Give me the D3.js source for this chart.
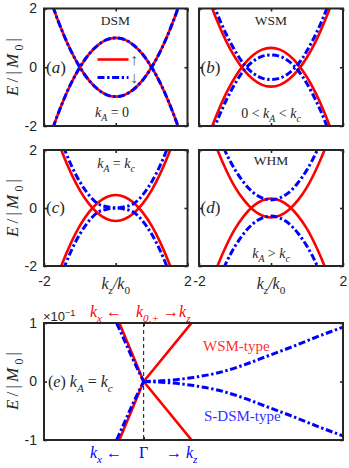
<!DOCTYPE html>
<html><head><meta charset="utf-8">
<script src="https://cdn.jsdelivr.net/npm/d3@7"></script>
<style>
html,body{margin:0;padding:0;background:#fff;}
svg{display:block;}
</style></head>
<body>
<svg id="c" width="349" height="468"></svg>
<script>
// ---------- data ----------
const K = [-2,-1.75,-1.5,-1.25,-1,-0.75,-0.5,-0.25,0,0.25,0.5,0.75,1,1.25,1.5,1.75,2];
// panel (a) DSM, kA = 0 (spin up / down coincide)
const aRedUp  = [3,2.06,1.25,0.56,0,-0.44,-0.75,-0.94,-1,-0.94,-0.75,-0.44,0,0.56,1.25,2.06,3];
const aRedDn  = [-3,-2.06,-1.25,-0.56,0,0.44,0.75,0.94,1,0.94,0.75,0.44,0,-0.56,-1.25,-2.06,-3];
const aBlueUp = [3,2.06,1.25,0.56,0,-0.44,-0.75,-0.94,-1,-0.94,-0.75,-0.44,0,0.56,1.25,2.06,3];
const aBlueDn = [-3,-2.06,-1.25,-0.56,0,0.44,0.75,0.94,1,0.94,0.75,0.44,0,-0.56,-1.25,-2.06,-3];
// panel (b) WSM
const bRedUp  = [3.34,2.4,1.59,0.9,0.34,-0.1,-0.41,-0.6,-0.66,-0.6,-0.41,-0.1,0.34,0.9,1.59,2.4,3.34];
const bRedDn  = [-3.34,-2.4,-1.59,-0.9,-0.34,0.1,0.41,0.6,0.66,0.6,0.41,0.1,-0.34,-0.9,-1.59,-2.4,-3.34];
const bBlueUp = [3.6,2.68,1.84,1.14,0.56,0.1,-0.2,-0.37,-0.42,-0.37,-0.2,0.1,0.56,1.14,1.84,2.68,3.6];
const bBlueDn = [-3.6,-2.68,-1.84,-1.14,-0.56,-0.1,0.2,0.37,0.42,0.37,0.2,-0.1,-0.56,-1.14,-1.84,-2.68,-3.6];
// panel (c) kA = kc
const cRedUp  = [3.79,2.8,1.94,1.21,0.61,0.15,-0.18,-0.38,-0.45,-0.38,-0.18,0.15,0.61,1.21,1.94,2.8,3.79];
const cRedDn  = [-3.79,-2.8,-1.94,-1.21,-0.61,-0.15,0.18,0.38,0.45,0.38,0.18,-0.15,-0.61,-1.21,-1.94,-2.8,-3.79];
const cBlueUp = [4,3.1,2.25,1.5,0.9,0.45,0.15,0.04,0,0.04,0.15,0.45,0.9,1.5,2.25,3.1,4];
const cBlueDn = [-4,-3.1,-2.25,-1.5,-0.9,-0.45,-0.15,-0.04,0,-0.04,-0.15,-0.45,-0.9,-1.5,-2.25,-3.1,-4];
// panel (d) WHM
const dRedUp  = [3.87,2.89,2.04,1.32,0.72,0.27,-0.06,-0.26,-0.33,-0.26,-0.06,0.27,0.72,1.32,2.04,2.89,3.87];
const dRedDn  = [-3.87,-2.89,-2.04,-1.32,-0.72,-0.27,0.06,0.26,0.33,0.26,0.06,-0.27,-0.72,-1.32,-2.04,-2.89,-3.87];
const dBlueUp = [4.44,3.47,2.62,1.9,1.32,0.87,0.54,0.35,0.28,0.35,0.54,0.87,1.32,1.9,2.62,3.47,4.44];
const dBlueDn = [-4.44,-3.47,-2.62,-1.9,-1.32,-0.87,-0.54,-0.35,-0.28,-0.35,-0.54,-0.87,-1.32,-1.9,-2.62,-3.47,-4.44];
// panel (e) zoom near Gamma (E in units of 1e-1)
const eRedK   = [-0.3, 0, 0.6];
const eRedUp  = [1.23, 0, 1.25];
const eRedDn  = [-1.23, 0, -1.25];
const eBlueLK  = [-0.33,-0.2,-0.1,0];
const eBlueLUp = [1.22,0.73,0.35,0];
const eBlueLDn = [-1.22,-0.73,-0.35,0];
const eBlueRK  = [0,0.25,0.5,0.75,1,1.25,1.5,1.75,2];
const eBlueRUp = [0,0.02,0.07,0.15,0.28,0.44,0.6,0.77,0.93];
const eBlueRDn = [0,-0.02,-0.07,-0.15,-0.28,-0.44,-0.6,-0.77,-0.93];
const bandTicks = [-2,0,2];
const eTicks = [-1,0,1];

// ---------- style ----------
const RED = "#ff0000", BLUE = "#0000ff", INK = "#262626";
const SERIF = "'Liberation Serif','DejaVu Serif',serif";
const SANS = "'Liberation Sans',Arial,sans-serif";
const DASH = "7,2.6,2.4,2.6";

const svg = d3.select("#c");

function rich(sel, parts, fs) {
  let shift = 0;
  parts.forEach(([t, s]) => {
    const ts = sel.append("tspan").text(t);
    if (s.includes("i")) ts.attr("font-style", "italic");
    const target = s.includes("_") ? fs * 0.32 : s.includes("^") ? -fs * 0.42 : 0;
    if (target !== shift) { ts.attr("dy", target - shift); shift = target; }
    if (s.includes("_") || s.includes("^")) ts.attr("font-size", fs * 0.7);
  });
  return sel;
}
function label(g, x, y, parts, fs, color, anchor, font) {
  const t = g.append("text").attr("x", x).attr("y", y)
    .attr("font-family", font || SERIF).attr("font-size", fs)
    .attr("fill", color || INK).attr("text-anchor", anchor || "middle");
  return rich(t, parts, fs);
}

let clipId = 0;
function panel(box, xd, yd, opts) {
  const x = d3.scaleLinear().domain(xd).range([box.x0, box.x1]);
  const y = d3.scaleLinear().domain(yd).range([box.y1, box.y0]);
  const id = "clip" + (clipId++);
  svg.append("clipPath").attr("id", id).append("rect")
    .attr("x", box.x0).attr("y", box.y0).attr("width", box.x1 - box.x0).attr("height", box.y1 - box.y0);
  const plot = svg.append("g").attr("clip-path", `url(#${id})`);
  const ax = svg.append("g");
  const xt = opts.xTicks, yt = opts.yTicks;
  const styleAxis = g => {
    g.select(".domain").remove();
    g.selectAll(".tick line").attr("stroke", INK).attr("stroke-width", 1.6);
    g.selectAll(".tick text").attr("font-family", SANS).attr("font-size", 14).attr("fill", INK);
  };
  ax.append("g").attr("transform", `translate(0,${box.y1})`)
    .call(d3.axisBottom(x).tickValues(xt).tickSizeInner(-3).tickSizeOuter(0).tickPadding(10)
      .tickFormat(d => opts.xLabels && d !== 0 ? String(d) : ""))
    .call(styleAxis);
  ax.append("g").attr("transform", `translate(0,${box.y0})`)
    .call(d3.axisTop(x).tickValues(xt).tickSizeInner(-3).tickSizeOuter(0).tickFormat(""))
    .call(styleAxis);
  ax.append("g").attr("transform", `translate(${box.x0},0)`)
    .call(d3.axisLeft(y).tickValues(yt).tickSizeInner(-3).tickSizeOuter(0).tickPadding(7)
      .tickFormat(d => opts.yLabels ? String(d) : ""))
    .call(styleAxis);
  ax.append("g").attr("transform", `translate(${box.x1},0)`)
    .call(d3.axisRight(y).tickValues(yt).tickSizeInner(-3).tickSizeOuter(0).tickFormat(""))
    .call(styleAxis);
  return { x, y, plot, box, ax };
}
function frame(p) {
  svg.append("rect").attr("x", p.box.x0).attr("y", p.box.y0)
    .attr("width", p.box.x1 - p.box.x0).attr("height", p.box.y1 - p.box.y0)
    .attr("fill", "none").attr("stroke", INK).attr("stroke-width", 2);
}
function curve(p, ks, es, color, dashed, curveType) {
  const line = d3.line().x((d, i) => p.x(ks[i])).y(d => p.y(d)).curve(curveType || d3.curveNatural);
  p.plot.append("path").attr("d", line(es)).attr("fill", "none")
    .attr("stroke", color).attr("stroke-width", dashed ? 3 : 2.6)
    .attr("stroke-dasharray", dashed ? DASH : null)
    .attr("stroke-linecap", "butt").attr("stroke-linejoin", "round");
}

const L = { x0: 44, x1: 187.5 }, R = { x0: 199, x1: 343 };
const row1 = { y0: 8.5, y1: 126 }, row2 = { y0: 150, y1: 266 }, row3 = { y0: 323, y1: 440 };

// (a)
const pa = panel({ ...L, ...row1 }, [-2, 2], [-2, 2], { xTicks: bandTicks, yTicks: bandTicks, yLabels: true });
curve(pa, K, aRedUp, RED); curve(pa, K, aRedDn, RED);
curve(pa, K, aBlueUp, BLUE, true); curve(pa, K, aBlueDn, BLUE, true);
frame(pa);
// (b)
const pb = panel({ ...R, ...row1 }, [-2, 2], [-2, 2], { xTicks: bandTicks, yTicks: bandTicks });
curve(pb, K, bRedUp, RED); curve(pb, K, bRedDn, RED);
curve(pb, K, bBlueUp, BLUE, true); curve(pb, K, bBlueDn, BLUE, true);
frame(pb);
// (c)
const pc = panel({ ...L, ...row2 }, [-2, 2], [-2, 2], { xTicks: bandTicks, yTicks: bandTicks, yLabels: true, xLabels: true });
curve(pc, K, cRedUp, RED); curve(pc, K, cRedDn, RED);
curve(pc, K, cBlueUp, BLUE, true); curve(pc, K, cBlueDn, BLUE, true);
frame(pc);
// (d)
const pd = panel({ ...R, ...row2 }, [-2, 2], [-2, 2], { xTicks: bandTicks, yTicks: bandTicks, xLabels: true });
curve(pd, K, dRedUp, RED); curve(pd, K, dRedDn, RED);
curve(pd, K, dBlueUp, BLUE, true); curve(pd, K, dBlueDn, BLUE, true);
frame(pd);
// (e)
const pe = panel({ x0: 44, x1: 343, ...row3 }, [-1, 2], [-1, 1], { xTicks: [0], yTicks: eTicks, yLabels: true });
pe.plot.append("line").attr("x1", pe.x(0)).attr("x2", pe.x(0)).attr("y1", row3.y0).attr("y2", row3.y1)
  .attr("stroke", "#111").attr("stroke-width", 1).attr("stroke-dasharray", "4,3");
curve(pe, eRedK, eRedUp, RED, false, d3.curveLinear);
curve(pe, eRedK, eRedDn, RED, false, d3.curveLinear);
curve(pe, eBlueLK, eBlueLUp, BLUE, true, d3.curveMonotoneX);
curve(pe, eBlueLK, eBlueLDn, BLUE, true, d3.curveMonotoneX);
curve(pe, eBlueRK, eBlueRUp, BLUE, true, d3.curveMonotoneX);
curve(pe, eBlueRK, eBlueRDn, BLUE, true, d3.curveMonotoneX);
frame(pe);

// ---------- texts ----------
const T = svg.append("g");
const ylab = [["E","i"],["/|",""],["M","i"],["0","_"],["|",""]];
[[67],[208],[381]].forEach(([cy]) => {
  T.append("g").attr("transform", `translate(18,${cy}) rotate(-90)`)
    .call(g => label(g, 0, 0, ylab, 17, INK).attr("textLength", 58).attr("lengthAdjust", "spacing"));
});
// x labels
label(T, 115.75, 289, [["k","i"],["z","i_"],["/","i"],["k","i"],["0","_"]], 16, INK);
label(T, 271, 289, [["k","i"],["z","i_"],["/","i"],["k","i"],["0","_"]], 16, INK);

// panel annotations
label(T, 115.5, 25, [["DSM",""]], 13.5, INK);
label(T, 112, 117, [["k","i"],["A","i_"],[" = 0",""]], 14, INK);
label(T, 46, 73, [["(",""],["a","i"],[")",""]], 17, INK, "start");
label(T, 271, 25, [["WSM",""]], 13.5, INK);
label(T, 271, 118, [["0 < ",""],["k","i"],["A","i_"],[" < ",""],["k","i"],["c","i_"]], 14, INK);
label(T, 200.5, 73, [["(",""],["b","i"],[")",""]], 17, INK, "start");
label(T, 116, 168, [["k","i"],["A","i_"],[" = ",""],["k","i"],["c","i_"]], 14, INK);
label(T, 46, 213, [["(",""],["c","i"],[")",""]], 17, INK, "start");
label(T, 271, 165, [["WHM",""]], 13.5, INK);
label(T, 271, 258, [["k","i"],["A","i_"],[" > ",""],["k","i"],["c","i_"]], 14, INK);
label(T, 200.5, 213, [["(",""],["d","i"],[")",""]], 17, INK, "start");

// legend in (a)
T.append("line").attr("x1", 97.5).attr("x2", 128.5).attr("y1", 59.5).attr("y2", 59.5)
  .attr("stroke", RED).attr("stroke-width", 2.6);
T.append("line").attr("x1", 97.5).attr("x2", 128.5).attr("y1", 77.5).attr("y2", 77.5)
  .attr("stroke", BLUE).attr("stroke-width", 3).attr("stroke-dasharray", DASH);
label(T, 134, 65, [["\u2191",""]], 16, "#555");
label(T, 134, 83, [["\u2193",""]], 16, "#555");

// (e) texts
label(T, 43, 321, [["\u00d710",""],["\u22121","^"]], 13, INK, "start", SANS);
label(T, 90, 317, [["k","i"],["x","i_"],[" \u2190",""]], 16, RED, "start");
label(T, 136, 317, [["k","i"],["0,+","i_"],[" \u2192",""],["k","i"],["z","i_"]], 16, RED, "start");
label(T, 90, 458, [["k","i"],["x","i_"],[" \u2190",""]], 16, BLUE, "start");
label(T, 143.5, 458, [["\u0393",""]], 16, BLUE);
label(T, 166, 458, [["\u2192 ",""],["k","i"],["z","i_"]], 16, BLUE, "start");
label(T, 48, 387, [["(",""],["e","i"],[") ",""],["k","i"],["A","i_"],[" = ",""],["k","i"],["c","i_"]], 16, INK, "start");
label(T, 203, 351, [["WSM-type",""]], 15, "#ff3030", "start");
label(T, 204, 421, [["S-DSM-type",""]], 15, "#3030ff", "start");
</script>
</body></html>
